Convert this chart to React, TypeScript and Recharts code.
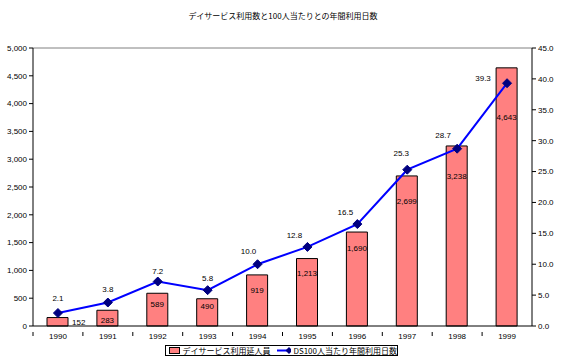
import React from 'react';
import {
  ComposedChart,
  Bar,
  Line,
  XAxis,
  YAxis,
  LabelList,
  ReferenceLine,
} from 'recharts';

const years = ['1990', '1991', '1992', '1993', '1994', '1995', '1996', '1997', '1998', '1999'];
const users = [152, 283, 589, 490, 919, 1213, 1690, 2699, 3238, 4643];
const daysPer100 = [2.1, 3.8, 7.2, 5.8, 10.0, 12.8, 16.5, 25.3, 28.7, 39.3];
const leftTicks = [0, 500, 1000, 1500, 2000, 2500, 3000, 3500, 4000, 4500, 5000];
const rightTicks = [0, 5, 10, 15, 20, 25, 30, 35, 40, 45];

const barName = 'デイサービス利用延人員';
const lineName = 'DS100人当たり年間利用日数';

// label placement (px) as the labels were nudged in the original
const barLabelDy = [0, 10, 11, 7, 15, 14, 16, 25, 30, 49];
const lineLabelDx = [0, 0, 0, 0, -9, -13, -12, -6, -14, -24];
const lineLabelDy = [-15, -14, -11, -12, -13, -12, -12, -17, -14, -5];

const data = years.map((y, i) => ({ year: y, users: users[i], days: daysPer100[i] }));

const FONT = '"Liberation Sans", Arial, sans-serif';
const CJK = '"Noto Sans CJK JP", sans-serif';

const BarLabel = (props: any) => {
  const { x, y, width, height, value, index } = props;
  const txt = Number(value).toLocaleString('en-US');
  // small bar: label goes beside it
  if (height < 14) {
    return (
      <text x={x + width + 4} y={y + height / 2 + 3} fontSize={8} fontFamily={FONT} fill="#000">
        {txt}
      </text>
    );
  }
  const dy = barLabelDy[index] ?? 12;
  return (
    <text x={x + width / 2} y={y + dy + 3} fontSize={8} fontFamily={FONT} fill="#000" textAnchor="middle">
      {txt}
    </text>
  );
};

const LineLabel = (props: any) => {
  const { x, y, value, index } = props;
  return (
    <text
      x={x + (lineLabelDx[index] ?? 0)}
      y={y + (lineLabelDy[index] ?? -14) + 3}
      fontSize={8}
      fontFamily={FONT}
      fill="#000"
      textAnchor="middle"
    >
      {Number(value).toFixed(1)}
    </text>
  );
};

const Diamond = (props: any) => {
  const { cx, cy } = props;
  if (cx == null || cy == null) return null;
  const r = 4.5;
  return (
    <polygon
      points={`${cx},${cy - r} ${cx + r},${cy} ${cx},${cy + r} ${cx - r},${cy}`}
      fill="#000080"
      stroke="#000080"
    />
  );
};

const YearTick = (props: any) => {
  const { x, y, payload } = props;
  const half = payload.offset ?? 25;
  return (
    <g>
      <line x1={x - half} y1={y - 2} x2={x - half} y2={y + 2} stroke="#000" />
      <text x={x} y={y + 5} fontSize={8} fontFamily={FONT} fill="#000" textAnchor="middle">
        {payload.value}
      </text>
    </g>
  );
};

export default function App() {
  return (
    <div style={{ position: 'absolute', left: 0, top: 0, width: 566, height: 362, background: '#fff' }}>
      <div
        style={{
          position: 'absolute',
          top: 10,
          left: 0,
          width: 566,
          textAlign: 'center',
          fontFamily: CJK,
          fontSize: 8,
          color: '#000',
        }}
      >
        デイサービス利用数と100人当たりとの年間利用日数
      </div>
      <ComposedChart
        width={566}
        height={362}
        data={data}
        margin={{ top: 48, right: 0, bottom: 20, left: 0 }}
      >
        <XAxis
          dataKey="year"
          xAxisId="x"
          axisLine={{ stroke: '#000' }}
          tickLine={false}
          tick={<YearTick />}
          height={16}
          interval={0}
        />
        <YAxis
          yAxisId="left"
          orientation="left"
          domain={[0, 5000]}
          ticks={leftTicks}
          width={33}
          axisLine={{ stroke: '#000' }}
          tickLine={{ stroke: '#000' }}
          tickSize={4}
          tick={{ fontSize: 8, fontFamily: FONT, fill: '#000' }}
          tickFormatter={(v: number) => v.toLocaleString('en-US')}
          interval={0}
        />
        <YAxis
          yAxisId="right"
          orientation="right"
          domain={[0, 45]}
          ticks={rightTicks}
          width={34}
          axisLine={{ stroke: '#000' }}
          tickLine={{ stroke: '#000' }}
          tickSize={4}
          tick={{ fontSize: 8, fontFamily: FONT, fill: '#000', textAnchor: 'start' }}
          tickFormatter={(v: number) => v.toFixed(1)}
          interval={0}
        />
        <ReferenceLine y={5000} yAxisId="left" xAxisId="x" stroke="#808080" />
        <Bar
          dataKey="users"
          name={barName}
          xAxisId="x"
          yAxisId="left"
          fill="#FF8080"
          stroke="#000"
          strokeWidth={1}
          barSize={21}
          isAnimationActive={false}
        >
          <LabelList dataKey="users" content={<BarLabel />} />
        </Bar>
        <Line
          dataKey="days"
          name={lineName}
          xAxisId="x"
          yAxisId="right"
          type="linear"
          stroke="#0000FF"
          strokeWidth={2}
          dot={<Diamond />}
          activeDot={false}
          isAnimationActive={false}
        >
          <LabelList dataKey="days" content={<LineLabel />} />
        </Line>
      </ComposedChart>
      <div
        style={{
          position: 'absolute',
          left: 165,
          top: 345,
          width: 233,
          height: 11,
          border: '1px solid #000',
          boxSizing: 'border-box',
          display: 'flex',
          alignItems: 'center',
          fontFamily: CJK,
          fontSize: 8,
          color: '#000',
          lineHeight: '9px',
          whiteSpace: 'nowrap',
        }}
      >
        <span
          style={{
            display: 'inline-block',
            width: 14,
            height: 5,
            background: '#FF8080',
            border: '1px solid #000',
            marginLeft: 3,
            marginRight: 3,
          }}
        />
        <span>{barName}</span>
        <svg width={26} height={9} style={{ marginLeft: 5, marginRight: 2 }}>
          <line x1={1} y1={4.5} x2={25} y2={4.5} stroke="#0000FF" strokeWidth={2} />
          <polygon points="13,1 16.5,4.5 13,8 9.5,4.5" fill="#000080" />
        </svg>
        <span>{lineName}</span>
      </div>
    </div>
  );
}
